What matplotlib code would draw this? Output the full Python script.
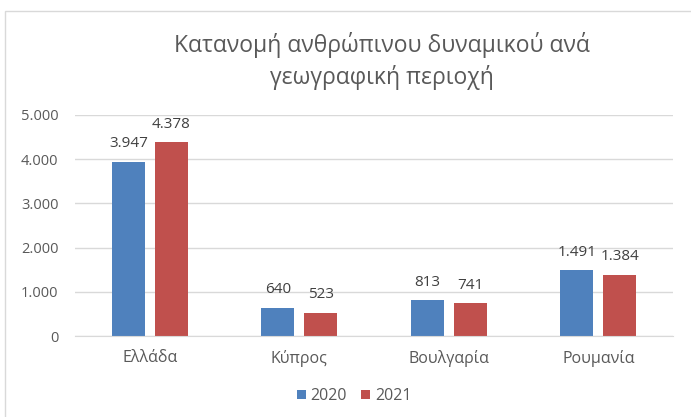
import matplotlib
matplotlib.use("Agg")
import matplotlib.pyplot as plt
from matplotlib.patches import Rectangle
from matplotlib.ticker import FuncFormatter
import numpy as np

categories = ["Ελλάδα", "Κύπρος", "Βουλγαρία", "Ρουμανία"]
series_names = ["2020", "2021"]
values_2020 = [3947, 640, 813, 1491]
values_2021 = [4378, 523, 741, 1384]
yticks = [0, 1000, 2000, 3000, 4000, 5000]
title = "Κατανομή ανθρώπινου δυναμικού ανά\nγεωγραφική περιοχή"

plt.rcParams['font.family'] = ['Open Sans', 'DejaVu Sans']

W, H = 691, 417
fig = plt.figure(figsize=(W / 100, H / 100), dpi=100)
fig.patch.set_facecolor("white")

# chart border
fig.patches.append(Rectangle((5 / W, -0.05), 1.2, 1 - 11 / H + 0.05, transform=fig.transFigure,
                             fill=False, edgecolor="#d9d9d9", linewidth=1.0))

ax = fig.add_axes([75 / W, 1 - 336 / H, (673 - 75) / W, (336 - 115) / H])
x = np.arange(len(categories))
bw = 0.22
off = 0.143
c1, c2 = "#4f81bd", "#c0504d"
b1 = ax.bar(x - off, values_2020, bw, color=c1, label=series_names[0])
b2 = ax.bar(x + off, values_2021, bw, color=c2, label=series_names[1])

fmt = lambda v: f"{int(v):,}".replace(",", ".")
for bars, vals in ((b1, values_2020), (b2, values_2021)):
    for r, v in zip(bars, vals):
        ax.annotate(fmt(v), (r.get_x() + r.get_width() / 2, v), xytext=(0, 7.5),
                    textcoords="offset points", ha="center", va="bottom",
                    fontsize=11, color="#404040")

ax.set_xlim(-0.5, len(categories) - 0.5)
ax.set_ylim(0, 5000)
ax.set_yticks(yticks)
ax.yaxis.set_major_formatter(FuncFormatter(lambda v, p: fmt(v)))
ax.set_xticks(x)
ax.set_xticklabels(categories)
ax.tick_params(axis="both", length=0, labelcolor="#595959")
ax.tick_params(axis="y", pad=12, labelsize=10.5)
ax.tick_params(axis="x", pad=10, labelsize=11.5)
ax.grid(axis="y", color="#d9d9d9", linewidth=1)
ax.set_axisbelow(True)
for s in ["top", "right", "left"]:
    ax.spines[s].set_visible(False)
ax.spines["bottom"].set_color("#d9d9d9")

fig.text(382 / W, 1 - 61 / H, title, ha="center", va="center", fontsize=16.5,
         color="#595959", linespacing=1.4)

fig.legend(handles=[b1, b2], labels=series_names, loc="center", bbox_to_anchor=(354 / W, 1 - 396 / H),
           ncol=2, frameon=False, fontsize=11.5, labelcolor="#595959", handlelength=0.55,
           handleheight=0.55, handletextpad=0.3, columnspacing=0.9)

fig.savefig("out.png", dpi=100)
